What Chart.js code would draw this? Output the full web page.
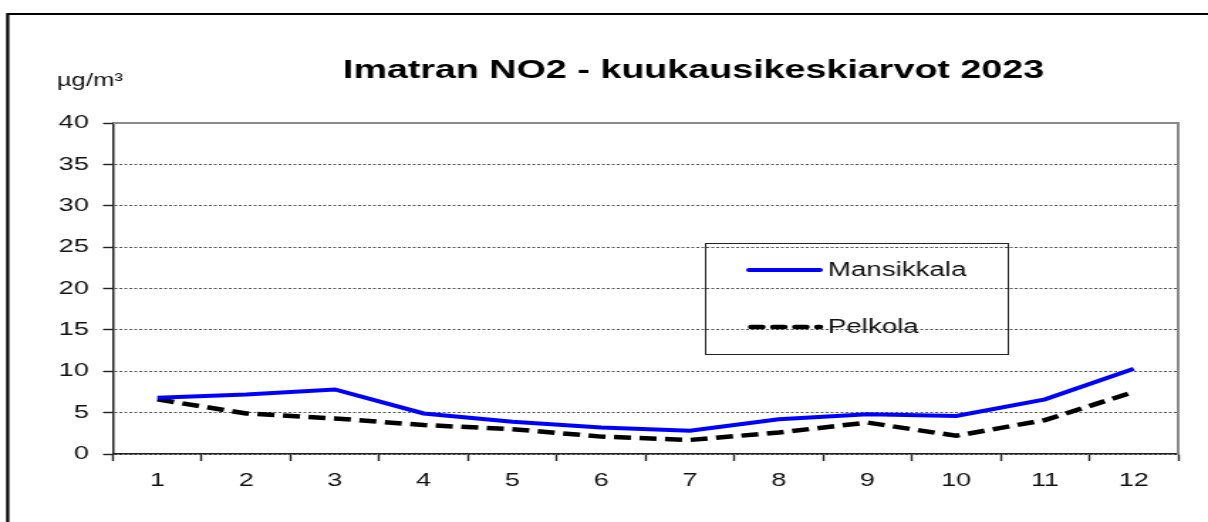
<!DOCTYPE html>
<html lang="fi">
<head>
<meta charset="utf-8">
<title>Imatran NO2 - kuukausikeskiarvot 2023</title>
<script src="https://cdn.jsdelivr.net/npm/chart.js@4/dist/chart.umd.min.js"></script>
<style>
    html, body { margin: 0; padding: 0; background: #fff; }
    /* Le graphique d'origine est étiré horizontalement (~1.42) */
    #no2Chart { display: block; width: 1208px; height: 522px; }
</style>
</head>
<body>
<canvas id="no2Chart" width="850" height="522" style="width:1208px;height:522px"></canvas>
<script>
// Données
const months = ['1', '2', '3', '4', '5', '6', '7', '8', '9', '10', '11', '12'];
const mansikkala = [6.8, 7.2, 7.8, 4.9, 3.9, 3.2, 2.8, 4.2, 4.8, 4.6, 6.6, 10.3];
const pelkola = [6.6, 4.9, 4.3, 3.5, 3.0, 2.1, 1.7, 2.6, 3.8, 2.2, 4.1, 7.5];
const yTicks = [0, 5, 10, 15, 20, 25, 30, 35, 40];

const chartTitle = 'Imatran NO2 - kuukausikeskiarvot 2023';
const unitLabel = 'µg/m³';

const FONT = "'Liberation Sans', Arial, sans-serif";

let charts = {
    no2Chart: null
};

// Cadre, titre, unité et légende dessinés sur le canvas
const decorPlugin = {
    id: 'decor',
    beforeDatasetsDraw(chart) {
        const { ctx, chartArea } = chart;
        ctx.save();
        ctx.strokeStyle = '#8a8a8a';
        ctx.lineWidth = 2;
        ctx.beginPath();
        ctx.moveTo(chartArea.left, chartArea.top);
        ctx.lineTo(chartArea.right, chartArea.top);
        ctx.lineTo(chartArea.right, chartArea.bottom);
        ctx.stroke();
        ctx.restore();
    },
    afterDraw(chart) {
        const { ctx } = chart;
        ctx.save();

        // cadre extérieur (haut + gauche)
        ctx.strokeStyle = '#000';
        ctx.lineWidth = 2.2;
        ctx.lineCap = 'butt';
        ctx.beginPath();
        ctx.moveTo(5.4, chart.height);
        ctx.lineTo(5.4, 14);
        ctx.lineTo(chart.width, 14);
        ctx.stroke();

        // titre
        ctx.fillStyle = '#000';
        ctx.textAlign = 'center';
        ctx.textBaseline = 'alphabetic';
        ctx.font = `bold 26.5px ${FONT}`;
        ctx.fillText(chartTitle, 488, 78);

        // unité
        ctx.textAlign = 'left';
        ctx.font = `18px ${FONT}`;
        ctx.fillStyle = '#111';
        ctx.fillText(unitLabel, 40, 86);

        // légende
        const box = { x: 496, y: 243, w: 213, h: 111 };
        ctx.strokeStyle = '#222';
        ctx.lineWidth = 1;
        ctx.strokeRect(box.x + 0.5, box.y + 0.5, box.w, box.h);

        const rows = [270, 327];
        chart.data.datasets.forEach((ds, i) => {
            const y = rows[i];
            const dashed = ds.borderDash && ds.borderDash.length;
            ctx.save();
            ctx.strokeStyle = ds.borderColor;
            ctx.lineWidth = ds.borderWidth;
            ctx.setLineDash(dashed ? [8, 7.5] : []);
            ctx.lineCap = 'round';
            ctx.beginPath();
            ctx.moveTo(dashed ? 528.5 : 527, y);
            ctx.lineTo(577, y);
            ctx.stroke();
            ctx.restore();

            ctx.fillStyle = '#111';
            ctx.font = `19.5px ${FONT}`;
            ctx.textBaseline = 'middle';
            ctx.fillText(ds.label, 582.5, y + 1);
        });

        ctx.restore();
    }
};

function drawChart() {
    const ctx = document.getElementById('no2Chart');
    if (!ctx) return;

    if (charts.no2Chart) {
        charts.no2Chart.destroy();
    }

    charts.no2Chart = new Chart(ctx, {
        type: 'line',
        data: {
            labels: months,
            datasets: [{
                label: 'Mansikkala',
                data: mansikkala,
                borderColor: '#0000ff',
                borderWidth: 4,
                pointRadius: 0,
                tension: 0,
                fill: false
            }, {
                label: 'Pelkola',
                data: pelkola,
                borderColor: '#000000',
                borderWidth: 4.5,
                borderDash: [12, 6],
                pointRadius: 0,
                tension: 0,
                fill: false
            }]
        },
        options: {
            responsive: false,
            devicePixelRatio: 1,
            animation: false,
            layout: {
                padding: { top: 123, right: 21, left: 0, bottom: 0 }
            },
            plugins: {
                legend: { display: false },
                title: { display: false },
                tooltip: { enabled: false }
            },
            scales: {
                x: {
                    type: 'category',
                    offset: true,
                    afterFit(scale) { scale.height = 68; },
                    grid: {
                        offset: true,
                        drawOnChartArea: false,
                        drawTicks: true,
                        tickLength: 7,
                        tickColor: '#222',
                        tickWidth: 1.4
                    },
                    border: { display: true, color: '#222', width: 1.6 },
                    ticks: {
                        color: '#111',
                        padding: 8,
                        maxRotation: 0,
                        font: { family: FONT, size: 19 }
                    }
                },
                y: {
                    min: 0,
                    max: 40,
                    afterFit(scale) { scale.width = 79.5; },
                    afterBuildTicks(scale) {
                        scale.ticks = yTicks.map(v => ({ value: v }));
                    },
                    grid: {
                        color: '#555',
                        lineWidth: 1,
                        drawTicks: true,
                        tickLength: 7,
                        tickColor: '#222',
                        tickWidth: 1.4,
                        tickBorderDash: []
                    },
                    border: { display: true, color: '#222', width: 1.5, dash: [2, 1.5] },
                    ticks: {
                        color: '#111',
                        padding: 10,
                        font: { family: FONT, size: 19 }
                    }
                }
            }
        },
        plugins: [decorPlugin]
    });
}

document.addEventListener('DOMContentLoaded', drawChart);
</script>
</body>
</html>
